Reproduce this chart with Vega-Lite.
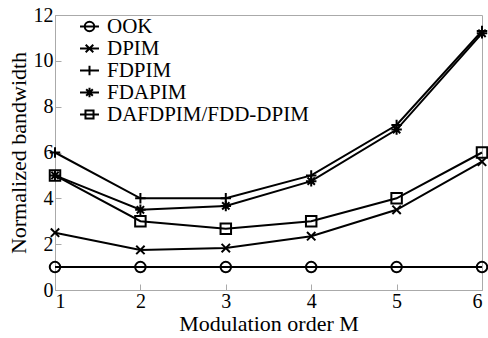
{
  "$schema": "https://vega.github.io/schema/vega-lite/v6.json",
  "width": 427,
  "height": 275,
  "autosize": "none",
  "padding": {"left": 55, "top": 15, "right": 6, "bottom": 48},
  "background": "white",
  "config": {
    "font": "Liberation Serif",
    "view": {"stroke": "#aaaaaa", "strokeWidth": 1},
    "axis": {
      "grid": false,
      "domainColor": "#aaaaaa",
      "tickColor": "#aaaaaa",
      "tickSize": -6,
      "labelFont": "Liberation Serif",
      "titleFont": "Liberation Serif",
      "labelFontSize": 20,
      "titleFontSize": 22,
      "labelColor": "black",
      "titleColor": "black",
      "titleFontWeight": "normal"
    }
  },
  "data": {
    "values": [
      {"M": 1, "scheme": "OOK", "bw": 1},
      {"M": 2, "scheme": "OOK", "bw": 1},
      {"M": 3, "scheme": "OOK", "bw": 1},
      {"M": 4, "scheme": "OOK", "bw": 1},
      {"M": 5, "scheme": "OOK", "bw": 1},
      {"M": 6, "scheme": "OOK", "bw": 1},
      {"M": 1, "scheme": "DPIM", "bw": 2.5},
      {"M": 2, "scheme": "DPIM", "bw": 1.75},
      {"M": 3, "scheme": "DPIM", "bw": 1.83},
      {"M": 4, "scheme": "DPIM", "bw": 2.35},
      {"M": 5, "scheme": "DPIM", "bw": 3.5},
      {"M": 6, "scheme": "DPIM", "bw": 5.6},
      {"M": 1, "scheme": "FDPIM", "bw": 6},
      {"M": 2, "scheme": "FDPIM", "bw": 4},
      {"M": 3, "scheme": "FDPIM", "bw": 4},
      {"M": 4, "scheme": "FDPIM", "bw": 5},
      {"M": 5, "scheme": "FDPIM", "bw": 7.2},
      {"M": 6, "scheme": "FDPIM", "bw": 11.3},
      {"M": 1, "scheme": "FDAPIM", "bw": 5},
      {"M": 2, "scheme": "FDAPIM", "bw": 3.5},
      {"M": 3, "scheme": "FDAPIM", "bw": 3.67},
      {"M": 4, "scheme": "FDAPIM", "bw": 4.75},
      {"M": 5, "scheme": "FDAPIM", "bw": 7},
      {"M": 6, "scheme": "FDAPIM", "bw": 11.2},
      {"M": 1, "scheme": "DAFDPIM/FDD-DPIM", "bw": 5},
      {"M": 2, "scheme": "DAFDPIM/FDD-DPIM", "bw": 3},
      {"M": 3, "scheme": "DAFDPIM/FDD-DPIM", "bw": 2.67},
      {"M": 4, "scheme": "DAFDPIM/FDD-DPIM", "bw": 3},
      {"M": 5, "scheme": "DAFDPIM/FDD-DPIM", "bw": 4},
      {"M": 6, "scheme": "DAFDPIM/FDD-DPIM", "bw": 6}
    ]
  },
  "encoding": {
    "x": {
      "field": "M", "type": "quantitative",
      "scale": {"domain": [1, 6], "nice": false},
      "axis": {"values": [1, 2, 3, 4, 5, 6], "title": "Modulation order M", "labelPadding": 7, "titlePadding": 2}
    },
    "y": {
      "field": "bw", "type": "quantitative",
      "scale": {"domain": [0, 12], "nice": false},
      "axis": {"values": [0, 2, 4, 6, 8, 10, 12], "title": "Normalized bandwidth", "labelPadding": 8, "titlePadding": 3}
    }
  },
  "layer": [
    {
      "mark": {"type": "line", "color": "black", "strokeWidth": 2},
      "encoding": {"detail": {"field": "scheme"}}
    },
    {
      "mark": {"type": "point", "filled": false, "stroke": "black", "strokeWidth": 2, "size": 110, "opacity": 1},
      "encoding": {
        "shape": {
          "field": "scheme",
          "scale": {
            "domain": ["OOK", "DPIM", "FDPIM", "FDAPIM", "DAFDPIM/FDD-DPIM"],
            "range": [
              "circle",
              "M-0.8,-0.8L0.8,0.8M-0.8,0.8L0.8,-0.8",
              "M-1,0H1M0,-1V1",
              "M-1,0H1M0,-1V1M-0.7,-0.7L0.7,0.7M-0.7,0.7L0.7,-0.7",
              "square"
            ]
          },
          "legend": null
        }
      }
    },
    {
      "mark": {"type": "point", "filled": false, "stroke": "black", "strokeWidth": 2, "size": 100, "opacity": 0},
      "encoding": {
        "shape": {
          "field": "scheme",
          "scale": {
            "domain": ["OOK", "DPIM", "FDPIM", "FDAPIM", "DAFDPIM/FDD-DPIM"],
            "range": [
              "M-2,0H2M-1,0A1,1 0 1,1 1,0A1,1 0 1,1 -1,0Z",
              "M-2,0H2M-0.8,-0.8L0.8,0.8M-0.8,0.8L0.8,-0.8",
              "M-2,0H2M0,-1V1",
              "M-2,0H2M0,-1V1M-0.7,-0.7L0.7,0.7M-0.7,0.7L0.7,-0.7",
              "M-2,0H2M-0.85,-0.85H0.85V0.85H-0.85Z"
            ]
          },
          "legend": {
            "title": null,
            "orient": "none",
            "legendX": 24,
            "legendY": 1,
            "labelFont": "Liberation Serif",
            "labelFontSize": 21,
            "labelColor": "black",
            "labelLimit": 0,
            "symbolOpacity": 1,
            "symbolStrokeColor": "black",
            "symbolStrokeWidth": 2,
            "symbolFillColor": "transparent",
            "symbolSize": 90,
            "rowPadding": 0,
            "labelOffset": 7
          }
        }
      }
    }
  ],
  "resolve": {"scale": {"shape": "independent"}}
}
